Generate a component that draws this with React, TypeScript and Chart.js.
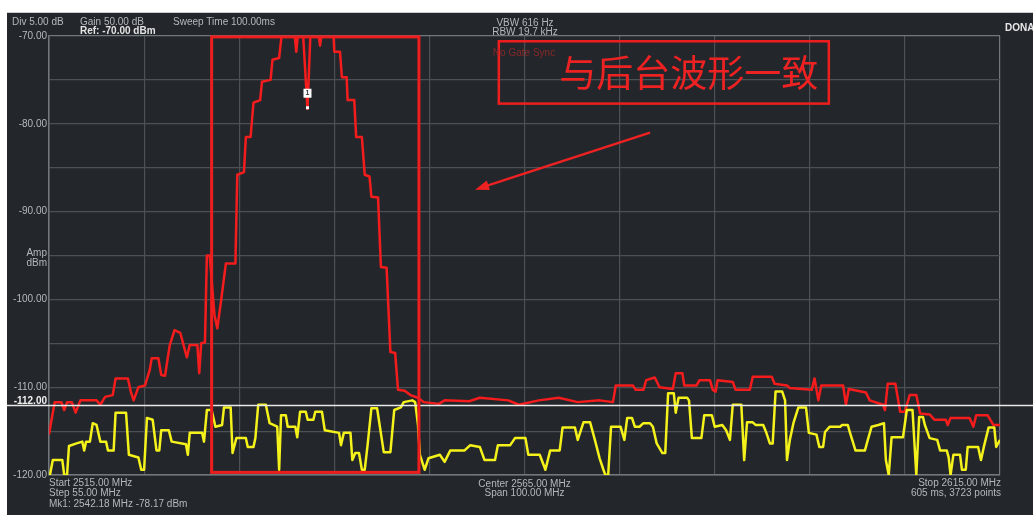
import React, { useEffect, useRef } from 'react';
import { Chart, registerables } from 'chart.js';

Chart.register(...registerables);

// ---- axis settings ----
const F_START = 2515;
const F_STOP = 2615;
const AMP_TOP = -70;
const AMP_BOTTOM = -120;
const DISPLAY_LINE = -112;
const yTickLabels = [-70, -80, -90, -100, -110, -120];

// ---- traces: [frequency MHz, level dBm] ----
const redTrace: [number, number][] = [
  [2515.0, -115.4], [2515.3, -113.5], [2515.6, -111.7], [2516.3, -111.7], [2516.6, -112.6],
  [2516.9, -111.7], [2517.4, -111.7], [2517.8, -112.9], [2518.3, -111.5], [2520.0, -111.5],
  [2520.4, -112.0], [2520.9, -111.1], [2521.7, -110.9], [2522.0, -109.0], [2523.3, -109.0],
  [2523.6, -110.5], [2523.9, -111.5], [2524.4, -110.0], [2525.1, -109.8], [2525.6, -108.0],
  [2525.8, -106.7], [2526.5, -106.7], [2526.8, -108.6], [2527.2, -108.7], [2527.7, -105.2],
  [2528.2, -103.5], [2528.8, -103.8], [2529.2, -105.4], [2529.5, -106.6], [2529.8, -105.2],
  [2530.6, -105.2], [2530.8, -108.4], [2531.0, -105.0], [2531.4, -104.9], [2531.6, -95.0],
  [2531.9, -95.0], [2532.4, -101.8], [2532.7, -103.3], [2533.1, -100.1], [2533.6, -95.9],
  [2534.6, -95.9], [2534.8, -85.8], [2535.5, -85.5], [2535.7, -81.5], [2536.2, -81.5],
  [2536.5, -77.6], [2537.2, -77.3], [2537.4, -75.2], [2538.3, -75.0], [2538.5, -72.7],
  [2539.2, -72.5], [2539.5, -69.5], [2540.8, -69.5], [2541.0, -71.8], [2541.2, -69.5],
  [2541.7, -69.5], [2542.18, -78.3], [2542.5, -69.5], [2543.3, -69.5], [2543.5, -71.1],
  [2543.7, -69.5], [2544.9, -69.5], [2545.0, -71.8], [2545.6, -71.8], [2545.8, -74.7],
  [2546.3, -74.7], [2546.4, -77.3], [2547.1, -77.3], [2547.3, -81.5], [2547.9, -81.5],
  [2548.2, -85.8], [2548.7, -86.0], [2548.9, -88.3], [2549.6, -88.4], [2549.9, -96.3],
  [2550.5, -96.4], [2550.9, -106.0], [2551.4, -106.1], [2551.7, -110.3], [2552.4, -110.4],
  [2553.0, -110.9], [2553.8, -111.2], [2554.4, -111.7], [2556.0, -111.9], [2556.6, -111.5],
  [2559.2, -111.6], [2560.3, -111.2], [2563.3, -111.5], [2564.4, -112.0], [2566.5, -111.5],
  [2568.6, -111.2], [2570.6, -111.7], [2572.9, -111.5], [2574.3, -111.7], [2574.6, -109.8],
  [2576.4, -109.8], [2576.7, -110.3], [2577.5, -110.3], [2577.8, -109.2], [2578.7, -108.9],
  [2579.2, -110.0], [2580.6, -110.2], [2580.9, -108.4], [2581.6, -108.4], [2581.8, -109.8],
  [2583.1, -109.8], [2583.4, -109.2], [2584.5, -109.2], [2584.8, -110.3], [2585.1, -110.5],
  [2585.3, -109.2], [2586.9, -109.4], [2587.2, -110.3], [2588.7, -110.3], [2589.0, -108.8],
  [2591.0, -108.8], [2591.3, -109.6], [2592.6, -109.8], [2592.9, -110.1], [2595.2, -110.3],
  [2595.5, -109.0], [2595.9, -111.5], [2596.2, -109.8], [2598.5, -109.8], [2598.8, -112.0],
  [2599.1, -110.2], [2600.9, -110.6], [2601.3, -111.5], [2602.7, -112.0], [2602.9, -112.6],
  [2603.2, -109.6], [2604.0, -109.6], [2604.5, -112.8], [2605.0, -112.8], [2605.5, -110.9],
  [2606.2, -110.9], [2606.6, -113.0], [2607.6, -113.1], [2608.1, -113.7], [2609.3, -113.7],
  [2609.5, -114.3], [2609.8, -113.5], [2611.8, -113.5], [2612.2, -114.5], [2612.5, -113.2],
  [2613.7, -113.2], [2614.3, -114.3], [2615.0, -114.3],
];

const yellowTrace: [number, number][] = [
  [2515.1, -120], [2515.4, -118.3], [2516.4, -118.3], [2516.6, -120], [2516.9, -120],
  [2517.1, -116.7], [2517.9, -116.4], [2518.5, -116.2], [2518.7, -117.2], [2518.9, -116.2],
  [2519.3, -116.2], [2519.6, -114.1], [2520.0, -114.3], [2520.4, -116.2], [2521.0, -116.2],
  [2521.2, -117.2], [2521.8, -117.2], [2522.0, -112.9], [2523.1, -112.9], [2523.4, -117.7],
  [2524.4, -118.0], [2524.7, -119.4], [2525.0, -119.4], [2525.3, -113.5], [2525.9, -113.7],
  [2526.3, -117.2], [2526.6, -117.2], [2526.8, -114.9], [2527.6, -114.9], [2527.9, -116.2],
  [2529.4, -116.5], [2529.6, -117.7], [2529.8, -115.2], [2531.1, -115.2], [2531.3, -116.2],
  [2531.6, -112.6], [2532.1, -112.6], [2532.5, -114.5], [2533.2, -114.3], [2533.4, -112.3],
  [2534.1, -112.3], [2534.3, -117.5], [2534.7, -115.8], [2535.7, -115.8], [2535.9, -116.8],
  [2536.5, -116.8], [2536.7, -115.8], [2537.0, -112.0], [2537.8, -112.0], [2538.2, -114.1],
  [2539.0, -114.5], [2539.2, -119.4], [2539.4, -113.2], [2539.9, -113.2], [2540.1, -114.5],
  [2540.9, -114.5], [2541.1, -115.7], [2541.4, -112.8], [2542.0, -112.8], [2542.2, -113.7],
  [2542.8, -113.7], [2543.0, -112.8], [2543.7, -112.8], [2544.0, -114.9], [2545.5, -115.2],
  [2545.7, -116.6], [2546.0, -115.2], [2546.7, -115.2], [2546.9, -118.3], [2547.2, -117.5],
  [2547.6, -117.5], [2547.9, -119.4], [2548.2, -119.4], [2548.5, -116.6], [2548.9, -112.4],
  [2549.5, -112.4], [2550.2, -117.4], [2550.9, -117.4], [2551.3, -112.6], [2552.0, -112.3],
  [2552.3, -111.7], [2553.2, -111.5], [2553.5, -111.7], [2553.8, -114.3], [2554.0, -117.7],
  [2554.5, -119.4], [2554.9, -118.1], [2556.1, -117.7], [2556.6, -118.5], [2557.2, -117.2],
  [2558.7, -117.2], [2559.3, -116.6], [2560.3, -116.8], [2560.8, -118.3], [2561.9, -118.3],
  [2562.2, -116.6], [2563.5, -116.6], [2564.0, -115.8], [2565.1, -115.8], [2565.4, -117.7],
  [2566.6, -117.7], [2567.2, -119.4], [2567.7, -117.2], [2568.7, -117.2], [2569.0, -114.6],
  [2570.3, -114.6], [2570.6, -116.0], [2571.2, -114.0], [2571.9, -114.0], [2572.4, -116.0],
  [2572.9, -118.1], [2573.3, -119.4], [2573.5, -120], [2573.8, -120], [2574.1, -114.5],
  [2575.1, -114.5], [2575.5, -116.0], [2575.8, -113.5], [2576.3, -113.5], [2576.6, -114.5],
  [2577.1, -114.5], [2577.5, -114.1], [2578.2, -114.1], [2578.5, -114.5], [2578.9, -116.4],
  [2579.5, -117.5], [2579.8, -117.5], [2580.1, -110.7], [2580.7, -110.7], [2580.9, -112.9],
  [2581.2, -111.2], [2582.1, -111.2], [2582.3, -111.5], [2582.6, -115.8], [2583.6, -115.8],
  [2583.9, -113.2], [2584.7, -113.2], [2585.0, -114.5], [2585.8, -114.3], [2586.2, -114.9],
  [2586.6, -116.0], [2586.9, -112.0], [2587.8, -112.0], [2588.1, -118.3], [2588.4, -114.0],
  [2589.0, -114.0], [2589.3, -114.3], [2590.1, -114.3], [2590.4, -115.1], [2590.8, -116.4],
  [2591.1, -116.4], [2591.4, -110.5], [2592.1, -110.5], [2592.4, -111.5], [2592.6, -118.3],
  [2592.9, -116.0], [2593.3, -114.0], [2593.8, -112.3], [2594.6, -112.3], [2594.9, -115.2],
  [2595.7, -115.4], [2596.0, -116.8], [2596.4, -116.8], [2596.6, -115.1], [2597.1, -114.5],
  [2598.2, -114.5], [2598.4, -114.3], [2599.0, -114.3], [2599.2, -115.1], [2599.8, -117.2],
  [2600.8, -117.2], [2601.1, -116.0], [2601.5, -114.5], [2602.2, -114.3], [2602.8, -114.1],
  [2603.0, -118.3], [2603.3, -120], [2603.6, -115.7], [2604.8, -115.7], [2605.2, -112.6],
  [2605.8, -112.6], [2606.2, -120], [2606.5, -113.4], [2606.9, -113.4], [2607.1, -114.3],
  [2607.6, -115.8], [2608.4, -116.0], [2608.7, -117.2], [2609.4, -117.2], [2609.6, -118.0],
  [2609.8, -120], [2610.1, -117.7], [2610.8, -117.7], [2611.0, -119.4], [2611.4, -119.4],
  [2611.6, -116.8], [2612.7, -116.8], [2613.0, -118.3], [2613.3, -116.8], [2613.8, -114.6],
  [2614.4, -114.6], [2614.6, -116.8], [2615.0, -116.0],
];

// ---- marker & annotations (data units) ----
const markerFreq = 2542.18;
const markerLevel = -78.17;
const highlightFreq = [2532.1, 2553.9];
const highlightLevel = [-70.1, -119.7];
const noteFreq = [2562.3, 2597.0];
const noteLevel = [-70.6, -77.7];
const noteText = '与后台波形一致';
const arrowFreq = [2578.2, 2559.8];
const arrowLevel = [-81.0, -87.5];

// ---- texts ----
const headerLeft = ['Div 5.00 dB', 'Gain 50.00 dB', 'Ref: -70.00 dBm', 'Sweep Time 100.00ms'];
const headerMid = ['VBW 616 Hz', 'RBW 19.7 kHz', 'No Gate Sync'];
const footerLeft = ['Start 2515.00 MHz', 'Step 55.00 MHz', 'Mk1: 2542.18 MHz -78.17 dBm'];
const footerMid = ['Center 2565.00 MHz', 'Span 100.00 MHz'];
const footerRight = ['Stop 2615.00 MHz', '605 ms, 3723 points'];

const BG = '#23272b';
const GRID = '#4c5156';
const BORDER = '#72777c';
const TXT = '#b4b8bc';
const RED = '#f41c1c';
const YELLOW = '#f4f21a';
const FONT = '"Liberation Sans", Arial, sans-serif';

const overlay = {
  id: 'overlay',
  afterDatasetsDraw(chart: any) {
    const { ctx, scales } = chart;
    const x = scales.x;
    const y = scales.y;
    ctx.save();

    // display line
    const yl = Math.round(y.getPixelForValue(DISPLAY_LINE)) + 0.5;
    ctx.strokeStyle = '#e8e8e8';
    ctx.lineWidth = 1.6;
    ctx.beginPath();
    ctx.moveTo(7, yl);
    ctx.lineTo(chart.width, yl);
    ctx.stroke();

    // marker
    const mx = x.getPixelForValue(markerFreq);
    const my = y.getPixelForValue(markerLevel);
    ctx.fillStyle = '#ffffff';
    ctx.fillRect(mx - 1.5, my - 1.5, 3, 3);
    ctx.fillRect(mx - 4, my - 19, 8, 9);
    ctx.fillStyle = '#333';
    ctx.font = `bold 7px ${FONT}`;
    ctx.textAlign = 'center';
    ctx.textBaseline = 'middle';
    ctx.fillText('1', mx, my - 14.5);

    // highlight rectangle
    const rx0 = x.getPixelForValue(highlightFreq[0]);
    const rx1 = x.getPixelForValue(highlightFreq[1]);
    const ry0 = y.getPixelForValue(highlightLevel[0]);
    const ry1 = y.getPixelForValue(highlightLevel[1]);
    ctx.strokeStyle = '#ee1e1e';
    ctx.lineWidth = 3;
    ctx.strokeRect(rx0, ry0, rx1 - rx0, ry1 - ry0);

    // note box
    const nx0 = x.getPixelForValue(noteFreq[0]);
    const nx1 = x.getPixelForValue(noteFreq[1]);
    const ny0 = y.getPixelForValue(noteLevel[0]);
    const ny1 = y.getPixelForValue(noteLevel[1]);
    ctx.lineWidth = 2.5;
    ctx.strokeRect(nx0, ny0, nx1 - nx0, ny1 - ny0);
    ctx.fillStyle = '#ee2222';
    ctx.font = `37px "Noto Sans CJK SC", sans-serif`;
    ctx.textAlign = 'center';
    ctx.textBaseline = 'middle';
    ctx.fillText(noteText, (nx0 + nx1) / 2 + 25, (ny0 + ny1) / 2 + 1);

    // arrow
    const ax0 = x.getPixelForValue(arrowFreq[0]);
    const ay0 = y.getPixelForValue(arrowLevel[0]);
    const ax1 = x.getPixelForValue(arrowFreq[1]);
    const ay1 = y.getPixelForValue(arrowLevel[1]);
    const ang = Math.atan2(ay1 - ay0, ax1 - ax0);
    ctx.strokeStyle = '#ee2222';
    ctx.lineWidth = 2.5;
    ctx.beginPath();
    ctx.moveTo(ax0, ay0);
    ctx.lineTo(ax1 - 8 * Math.cos(ang), ay1 - 8 * Math.sin(ang));
    ctx.stroke();
    ctx.beginPath();
    ctx.moveTo(ax1, ay1);
    ctx.lineTo(ax1 - 14 * Math.cos(ang) + 5 * Math.sin(ang), ay1 - 14 * Math.sin(ang) - 5 * Math.cos(ang));
    ctx.lineTo(ax1 - 14 * Math.cos(ang) - 5 * Math.sin(ang), ay1 - 14 * Math.sin(ang) + 5 * Math.cos(ang));
    ctx.closePath();
    ctx.fill();

    ctx.restore();
  },
  afterDraw(chart: any) {
    const { ctx, scales, chartArea } = chart;
    const y = scales.y;
    ctx.save();
    ctx.textBaseline = 'middle';
    const t = (s: string, px: number, py: number, align: CanvasTextAlign, color = TXT, bold = false) => {
      ctx.font = `${bold ? 'bold ' : ''}10px ${FONT}`;
      ctx.fillStyle = color;
      ctx.textAlign = align;
      ctx.fillText(s, px, py);
    };
    // header
    t(headerLeft[0], 12, 22, 'left');
    t(headerLeft[1], 80, 22, 'left');
    t(headerLeft[2], 80, 31, 'left', '#e4e4e4', true);
    t(headerLeft[3], 173, 22, 'left');
    const cx = (chartArea.left + chartArea.right) / 2;
    t(headerMid[0], 525, 23, 'center');
    t(headerMid[1], 525, 32, 'center');
    ctx.globalAlpha = 0.75;
    t(headerMid[2], 524, 53, 'center', '#a82828');
    ctx.globalAlpha = 1;
    t('DONA', 1005, 28, 'left', '#e8e8e8', true);
    // axis unit
    t('Amp', 47, 253, 'right');
    t('dBm', 47, 263, 'right');
    // display line label
    t(DISPLAY_LINE.toFixed(2), 47, y.getPixelForValue(DISPLAY_LINE) - 4, 'right', '#f0f0f0', true);
    // footer
    t(footerLeft[0], chartArea.left, 483, 'left');
    t(footerLeft[1], chartArea.left, 493, 'left');
    t(footerLeft[2], chartArea.left, 504, 'left');
    t(footerMid[0], cx, 484, 'center');
    t(footerMid[1], cx, 493, 'center');
    t(footerRight[0], chartArea.right + 1, 483, 'right');
    t(footerRight[1], chartArea.right + 1, 493, 'right');
    ctx.restore();
  },
};

export default function App() {
  const ref = useRef<HTMLCanvasElement>(null);
  useEffect(() => {
    if (!ref.current) return;
    const chart = new Chart(ref.current, {
      type: 'line',
      data: {
        datasets: [
          {
            label: 'Trace 2',
            data: yellowTrace.map(([f, v]) => ({ x: f, y: v })),
            borderColor: YELLOW,
            borderWidth: 2.5,
            borderJoinStyle: 'round',
            pointRadius: 0,
            tension: 0,
            order: 1,
          },
          {
            label: 'Trace 1',
            data: redTrace.map(([f, v]) => ({ x: f, y: v })),
            borderColor: RED,
            borderWidth: 2.5,
            borderJoinStyle: 'round',
            pointRadius: 0,
            tension: 0,
            order: 2,
          },
        ],
      },
      options: {
        animation: false,
        responsive: false,
        maintainAspectRatio: false,
        layout: { padding: { left: 0, top: 36, right: 33, bottom: 40 } },
        plugins: { legend: { display: false }, tooltip: { enabled: false }, title: { display: false } },
        scales: {
          x: {
            type: 'linear',
            min: F_START,
            max: F_STOP,
            ticks: { display: false, stepSize: 10 },
            grid: {
              drawTicks: false,
              color: (c: any) => (c.tick && (c.tick.value === F_START || c.tick.value === F_STOP) ? BORDER : GRID),
              lineWidth: 1.2,
            },
            border: { display: true, color: BORDER, width: 1.5 },
            afterFit: (s: any) => { s.height = 0; },
          },
          y: {
            type: 'linear',
            min: AMP_BOTTOM,
            max: AMP_TOP,
            ticks: {
              stepSize: 5,
              autoSkip: false,
              padding: 2,
              color: TXT,
              font: { family: FONT, size: 10 },
              callback: (v: any) => (yTickLabels.includes(Number(v)) ? Number(v).toFixed(2) : ''),
            },
            grid: {
              drawTicks: false,
              color: (c: any) => (c.tick && (c.tick.value === AMP_TOP || c.tick.value === AMP_BOTTOM) ? BORDER : GRID),
              lineWidth: 1.2,
            },
            border: { display: true, color: BORDER, width: 1.5 },
            afterFit: (s: any) => { s.width = 49; },
          },
        },
      },
      plugins: [overlay],
    });
    return () => chart.destroy();
  }, []);
  return (
    <div style={{ position: 'absolute', left: 0, top: 0, width: 1033, height: 515, background: '#ffffff', overflow: 'hidden' }}>
      <div style={{ position: 'absolute', left: 7, top: 12, right: 0, bottom: 0, background: BG, borderTop: '1px solid #c8ccd0' }} />
      <canvas ref={ref} width={1033} height={515} style={{ position: 'absolute', left: 0, top: 0 }} />
    </div>
  );
}
